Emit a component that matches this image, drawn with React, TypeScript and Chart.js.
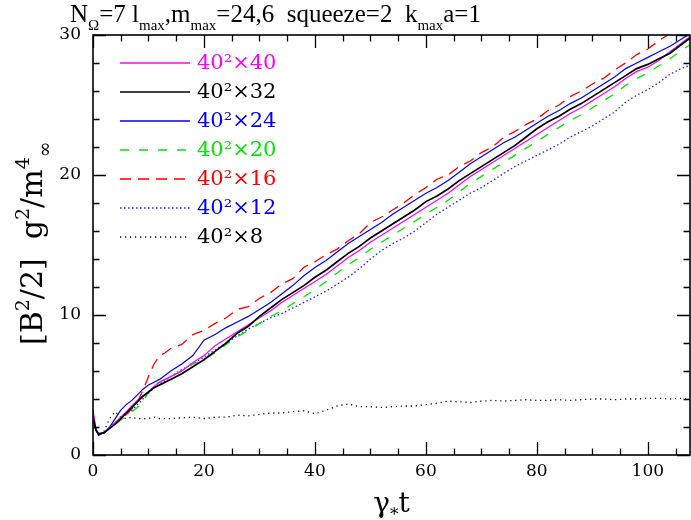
import React, { useEffect, useRef } from 'react';
import { Chart, registerables } from 'chart.js';
Chart.register(...registerables);

// time grid (gamma_* t)
const T = [0, 0.5, 1, 2, 3, 4, 5, 6, 7, 8, 9, 10, 11, 12, 13, 14,
  16, 18, 20, 22, 24, 26, 28, 30, 32, 34, 36, 38, 40, 42, 44, 46, 48, 50, 52, 54, 56, 58, 60,
  62, 64, 66, 68, 70, 72, 74, 76, 78, 80, 82, 84, 86, 88, 90, 92, 94, 96, 98, 100, 102, 104, 106, 108];

const S40 = [3.2, 1.9, 1.5, 1.6, 1.9, 2.3, 2.7, 3.1, 3.5, 3.9, 4.2, 4.5, 4.9, 5.2, 5.4, 5.6,
  6.0, 6.6, 7.1, 7.8, 8.3, 8.8, 9.3, 9.8, 10.3, 10.9, 11.4, 11.9, 12.4, 12.9, 13.5, 14.1, 14.6, 15.2, 15.7, 16.2,
  16.7, 17.2, 17.7, 18.2, 18.7, 19.3, 19.9, 20.4, 20.9, 21.4, 21.9, 22.4, 22.9, 23.4, 23.9, 24.4, 24.8, 25.3, 25.8, 26.3,
  26.9, 27.4, 27.7, 28.2, 28.8, 29.4, 30.0];
const S32 = [2.7, 1.8, 1.5, 1.6, 1.9, 2.2, 2.6, 3.0, 3.4, 3.8, 4.2, 4.5, 4.8, 5.0, 5.2, 5.4,
  5.8, 6.3, 6.8, 7.4, 8.0, 8.7, 9.2, 9.9, 10.5, 11.1, 11.6, 12.1, 12.7, 13.2, 13.8, 14.4, 14.9, 15.5, 16.0, 16.5,
  17.0, 17.5, 18.1, 18.5, 19.0, 19.6, 20.1, 20.6, 21.1, 21.6, 22.1, 22.7, 23.3, 23.8, 24.2, 24.7, 25.1, 25.6, 26.1, 26.6,
  27.1, 27.6, 27.9, 28.3, 28.7, 29.3, 29.9];
const S24 = [3.0, 1.8, 1.4, 1.6, 2.0, 2.6, 3.2, 3.6, 3.9, 4.3, 4.7, 5.0, 5.2, 5.4, 5.7, 6.0,
  6.5, 7.1, 8.2, 8.6, 9.1, 9.5, 9.9, 10.4, 10.9, 11.5, 12.1, 12.8, 13.4, 13.9, 14.5, 15.1, 15.6, 16.1, 16.6, 17.2,
  17.7, 18.2, 18.7, 19.1, 19.6, 20.2, 20.8, 21.3, 21.8, 22.3, 22.7, 23.2, 23.7, 24.2, 24.6, 25.1, 25.5, 26.0, 26.5, 27.0,
  27.6, 28.0, 28.4, 28.8, 29.2, 29.7, 30.2];
const S20 = [2.6, 1.8, 1.5, 1.6, 1.9, 2.2, 2.5, 2.8, 3.1, 3.4, 3.8, 4.5, 5.0, 5.2, 5.4, 5.6,
  6.0, 6.5, 6.8, 7.3, 7.9, 8.45, 8.9, 9.4, 9.9, 10.3, 10.8, 11.3, 11.8, 12.4, 13.0, 13.6, 14.1, 14.7, 15.2, 15.7,
  16.2, 16.7, 17.2, 17.7, 18.2, 18.8, 19.4, 19.9, 20.4, 20.9, 21.4, 21.9, 22.4, 22.9, 23.4, 23.9, 24.3, 24.8, 25.3, 25.8,
  26.4, 26.9, 27.3, 27.8, 28.3, 28.9, 29.4];
const S16 = [2.9, 1.9, 1.5, 1.6, 1.9, 2.3, 2.6, 2.9, 3.3, 3.8, 4.6, 5.6, 6.5, 7.1, 7.3, 7.6,
  7.9, 8.6, 8.9, 9.4, 9.8, 10.4, 10.6, 11.2, 11.6, 12.2, 12.6, 13.4, 13.8, 14.3, 14.7, 15.3, 15.8, 16.6, 17.0, 17.5,
  18.0, 18.6, 19.1, 19.7, 20.0, 20.6, 21.0, 21.6, 22.0, 22.7, 23.1, 23.6, 24.0, 24.6, 25.0, 25.6, 26.0, 26.5, 26.9, 27.5,
  28.0, 28.6, 29.0, 29.6, 30.1, 30.6, 31.1];
const S12 = [2.8, 1.8, 1.5, 1.6, 1.9, 2.3, 2.6, 2.9, 3.2, 3.6, 4.0, 4.4, 4.8, 5.1, 5.3, 5.6,
  6.1, 6.5, 7.0, 7.5, 8.0, 8.5, 9.0, 9.4, 9.8, 10.1, 10.5, 10.9, 11.3, 11.7, 12.2, 12.7, 13.3, 14.0, 14.6, 15.1,
  15.5, 16.0, 16.6, 17.2, 17.7, 18.2, 18.7, 19.1, 19.6, 20.1, 20.6, 21.0, 21.4, 21.8, 22.2, 22.7, 23.1, 23.5, 24.0, 24.5,
  25.2, 25.7, 26.1, 26.6, 27.2, 27.6, 27.9];
const S8 = [2.8, 1.8, 1.5, 1.7, 2.6, 3.1, 2.7, 2.6, 2.7, 2.6, 2.6, 2.6, 2.7, 2.6, 2.6, 2.6,
  2.65, 2.7, 2.6, 2.7, 2.7, 2.85, 2.8, 2.9, 3.0, 3.0, 3.1, 3.15, 2.95, 3.2, 3.5, 3.65, 3.45, 3.45, 3.4, 3.45,
  3.5, 3.5, 3.6, 3.7, 3.85, 3.8, 3.75, 3.85, 3.9, 3.85, 3.9, 3.95, 3.9, 3.9, 3.95, 3.9, 3.95, 4.0, 4.0, 3.95,
  4.0, 4.0, 4.05, 4.05, 4.0, 4.05, 4.0];

const LABELS = ['40²×40', '40²×32', '40²×24', '40²×20', '40²×16', '40²×12', '40²×8'];
const X_TICKS = [0, 20, 40, 60, 80, 100];
const Y_TICKS = [0, 10, 20, 30];
const X_MIN = 0, X_MAX = 107.6, Y_MIN = 0, Y_MAX = 30;

const SERIES = [S40, S32, S24, S20, S16, S12, S8];
const STYLES = [
  { color: 'rgb(255,0,255)', text: 'rgb(255,0,255)', width: 1.2, dash: [] as number[] },
  { color: 'rgb(0,0,0)', text: 'rgb(0,0,0)', width: 1.7, dash: [] as number[] },
  { color: 'rgb(0,0,255)', text: 'rgb(0,0,255)', width: 1.2, dash: [] as number[] },
  { color: 'rgb(0,230,0)', text: 'rgb(0,230,0)', width: 1.3, dash: [9, 10] },
  { color: 'rgb(255,0,0)', text: 'rgb(255,0,0)', width: 1.3, dash: [11, 7] },
  { color: 'rgb(30,30,255)', text: 'rgb(0,0,255)', width: 1.3, dash: [1.5, 2.5] },
  { color: 'rgb(0,0,0)', text: 'rgb(0,0,0)', width: 1.3, dash: [1.2, 3.8] },
];

const FONT = '"DejaVu Serif", serif';
const TFONT = '"Liberation Serif", serif';

type Part = [string, 'n' | 'sub' | 'sup'];

function drawRich(ctx: CanvasRenderingContext2D, x: number, y: number, parts: Part[], size: number, subSize: number, family: string) {
  let cx = x;
  for (const [txt, kind] of parts) {
    if (kind === 'n') {
      ctx.font = `${size}px ${family}`;
      ctx.fillText(txt, cx, y);
      cx += ctx.measureText(txt).width;
    } else {
      ctx.font = `${subSize}px ${family}`;
      const dy = kind === 'sub' ? size * 0.3 : -size * 0.42;
      ctx.fillText(txt, cx, y + dy);
      cx += ctx.measureText(txt).width;
    }
  }
  return cx - x;
}

const decor = {
  id: 'decor',
  afterDatasetsDraw(chart: any) {
    const ctx: CanvasRenderingContext2D = chart.ctx;
    const { left, right, top, bottom } = chart.chartArea;
    const xs = chart.scales.x, ys = chart.scales.y;
    ctx.save();
    ctx.setLineDash([]);
    ctx.strokeStyle = '#000';
    ctx.fillStyle = '#000';
    // ticks
    ctx.lineWidth = 1.3;
    ctx.beginPath();
    for (let v = 0; v <= X_MAX; v += 5) {
      const px = Math.round(xs.getPixelForValue(v)) + 0.5;
      const len = v % 20 === 0 ? 13 : 6.5;
      ctx.moveTo(px, bottom); ctx.lineTo(px, bottom - len);
      ctx.moveTo(px, top); ctx.lineTo(px, top + len);
    }
    for (let v = 0; v <= Y_MAX; v += 2) {
      const py = Math.round(ys.getPixelForValue(v)) + 0.5;
      const len = v % 10 === 0 ? 13 : 6.5;
      ctx.moveTo(left, py); ctx.lineTo(left + len, py);
      ctx.moveTo(right, py); ctx.lineTo(right - len, py);
    }
    ctx.stroke();
    // frame
    ctx.lineWidth = 1.6;
    ctx.strokeRect(left, top, right - left, bottom - top);

    // tick labels
    ctx.font = `17px ${FONT}`;
    ctx.textAlign = 'center';
    ctx.textBaseline = 'top';
    for (const v of X_TICKS) ctx.fillText(String(v), xs.getPixelForValue(v), bottom + 8);
    ctx.textAlign = 'right';
    ctx.textBaseline = 'middle';
    for (const v of Y_TICKS) ctx.fillText(String(v), left - 12, ys.getPixelForValue(v));

    // legend
    ctx.textAlign = 'left';
    ctx.textBaseline = 'middle';
    for (let i = 0; i < LABELS.length; i++) {
      const st = STYLES[i];
      const y = 63 + 29 * i;
      ctx.save();
      ctx.strokeStyle = st.color;
      ctx.lineWidth = 1.5;
      ctx.setLineDash(st.dash);
      ctx.beginPath();
      ctx.moveTo(120, y);
      ctx.lineTo(190, y);
      ctx.stroke();
      ctx.restore();
      ctx.fillStyle = st.text;
      ctx.font = `21px ${FONT}`;
      ctx.fillText(LABELS[i], 197, y + 1);
    }

    // title
    ctx.fillStyle = '#000';
    ctx.textBaseline = 'alphabetic';
    ctx.textAlign = 'left';
    drawRich(ctx, 70, 22, [
      ['N', 'n'], ['Ω', 'sub'], ['=7 l', 'n'], ['max', 'sub'], [',m', 'n'], ['max', 'sub'],
      ['=24,6  squeeze=2  k', 'n'], ['max', 'sub'], ['a=1', 'n'],
    ], 25, 15, TFONT);

    // x title
    ctx.font = `28px ${FONT}`;
    let xw = ctx.measureText('γ').width + ctx.measureText('t').width;
    ctx.font = `17px ${FONT}`;
    xw += ctx.measureText('*').width;
    drawRich(ctx, (left + right) / 2 - xw / 2, 512, [['γ', 'n'], ['*', 'sub'], ['t', 'n']], 28, 17, FONT);

    // y title
    ctx.save();
    ctx.translate(42, 345);
    ctx.rotate(-Math.PI / 2);
    drawRich(ctx, 0, 0, [
      ['[B', 'n'], ['2', 'sup'], ['/2]  g', 'n'], ['2', 'sup'], ['/m', 'n'], ['4', 'sup'], ['∞', 'sub'],
    ], 30, 19, FONT);
    ctx.restore();

    ctx.restore();
  },
};

export default function App() {
  const ref = useRef<HTMLCanvasElement | null>(null);
  useEffect(() => {
    if (!ref.current) return;
    const datasets = SERIES.map((s, i) => ({
      label: LABELS[i],
      data: T.map((t, j) => ({ x: t, y: s[j] })),
      borderColor: STYLES[i].color,
      borderWidth: STYLES[i].width,
      borderDash: STYLES[i].dash,
      pointRadius: 0,
      tension: 0,
      fill: false,
      order: i === 1 ? 0 : i + 1,
    }));
    const chart = new Chart(ref.current, {
      type: 'line',
      data: { datasets },
      options: {
        animation: false,
        responsive: false,
        devicePixelRatio: 1,
        layout: { padding: { left: 93, top: 35, right: 1, bottom: 65 } },
        plugins: { legend: { display: false }, tooltip: { enabled: false }, title: { display: false } },
        scales: {
          x: { type: 'linear', min: X_MIN, max: X_MAX, display: false },
          y: { type: 'linear', min: Y_MIN, max: Y_MAX, display: false },
        },
      },
      plugins: [decor],
    });
    return () => chart.destroy();
  }, []);
  return (
    <div style={{ position: 'absolute', left: 0, top: 0, width: 691, height: 520, background: '#fff' }}>
      <canvas ref={ref} width={691} height={520} />
    </div>
  );
}
